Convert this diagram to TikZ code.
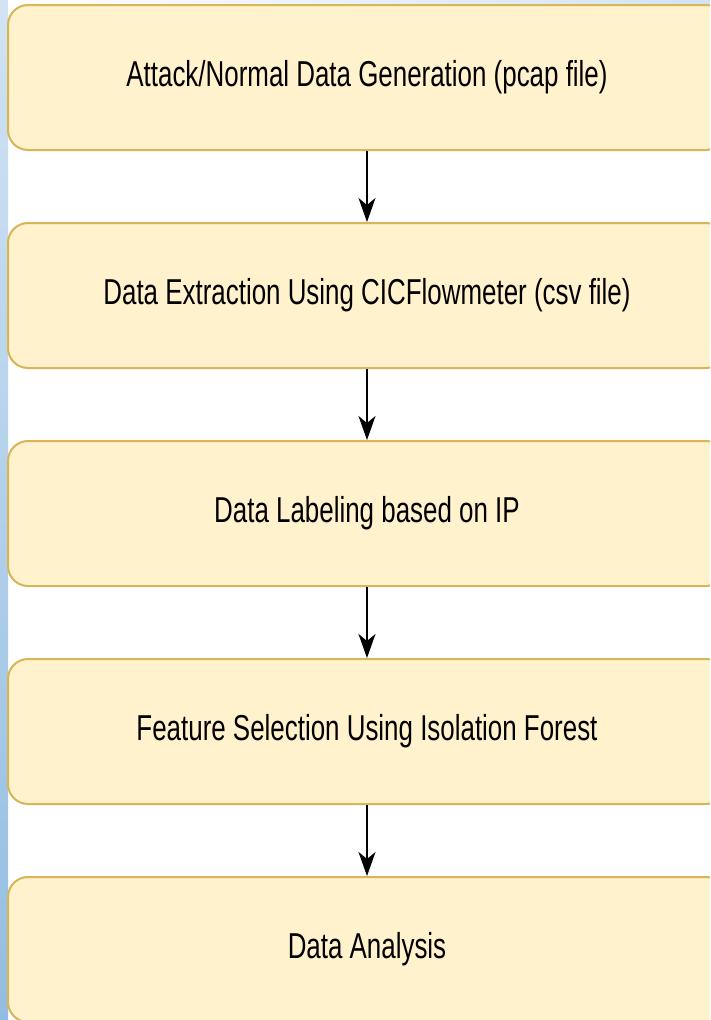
\documentclass[tikz,border=0pt]{standalone}
\usepackage{fontspec}
\setmainfont{Liberation Sans}
\newfontfamily\stagefont[FakeStretch=0.72]{Liberation Sans}
\usepackage{tikz}
\usetikzlibrary{
	arrows.meta,
	positioning,
	}
\definecolor{stagefill}{HTML}{FFF2CC}
\definecolor{stageline}{HTML}{D6B656}
\definecolor{edgetop}{HTML}{D2E3F4}
\definecolor{edgebot}{HTML}{92BDE1}
\tikzset{
	stagebox/.style={draw=stageline,fill=stagefill,line width=2pt,rounded corners=20pt,
		minimum width=718pt,minimum height=145pt,inner sep=0pt,
		font=\stagefont\fontsize{36}{40}\selectfont},
	flow/.style={line width=1.7pt,-{Stealth[length=24pt,width=17pt,inset=7pt]}},
}
\begin{document}
\begin{tikzpicture}[x=1pt,y=1pt,node distance=71pt]
\useasboundingbox (0,0) rectangle (710,-1020);
\clip (0,0) rectangle (710,-1020);
\fill[white] (0,0) rectangle (710,-1020);
% side strips
\fill[top color=edgetop,bottom color=edgebot] (0,0) rectangle (8,-1020);
\fill[left color=white,right color=edgetop] (8,0) rectangle (710,-4);
% stages
\node[stagebox] (gen) at (367,-77.5) {Attack/Normal Data Generation (pcap file)};
\node[stagebox,below=of gen] (extract) {Data Extraction Using CICFlowmeter (csv file)};
\node[stagebox,below=of extract] (label) {Data Labeling based on IP};
\node[stagebox,below=of label] (select) {Feature Selection Using Isolation Forest};
\node[stagebox,below=of select] (analysis) {Data Analysis};
% arrows
\draw[flow] (gen) -- (extract);
\draw[flow] (extract) -- (label);
\draw[flow] (label) -- (select);
\draw[flow] (select) -- (analysis);
\end{tikzpicture}
\end{document}
